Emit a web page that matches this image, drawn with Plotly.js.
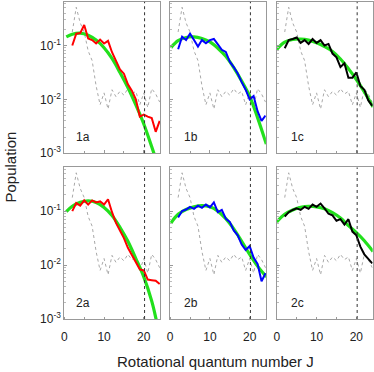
<!DOCTYPE html>
<html>
<head>
<meta charset="utf-8">
<script src="https://cdn.plot.ly/plotly-3.0.1.min.js"></script>
<style>
  html, body { margin: 0; padding: 0; background: #fff; }
  #chart { width: 374px; height: 372px; }
</style>
</head>
<body>
<div id="chart"></div>
<script>
// Rotational levels J = 2 .. 24 for the measured distributions
const levelsJ = [2, 3, 4, 5, 6, 7, 8, 9, 10, 11, 12, 13, 14, 15, 16, 17, 18, 19, 20, 21, 22, 23, 24];

// initial (gray dotted) distribution, same in every panel
const initialPop = [0.178, 0.513, 0.263, 0.178, 0.0794, 0.0525, 0.0178, 0.00794, 0.0132, 0.00661, 0.0151, 0.0112,
  0.0141, 0.0120, 0.0158, 0.0126, 0.0141, 0.00794, 0.0132, 0.00708, 0.0158, 0.0126, 0.00891];

// measured populations
const pop1a = [0.100, 0.166, 0.170, 0.240, 0.135, 0.126, 0.109, 0.129, 0.109, 0.122, 0.075, 0.052,
  0.036, 0.030, 0.019, 0.0145, 0.0100, 0.0048, 0.0052, 0.0048, 0.0045, 0.0025, 0.0040];
const pop1b = [0.0851, 0.145, 0.126, 0.166, 0.126, 0.0955, 0.126, 0.110, 0.126, 0.132, 0.105, 0.0832,
  0.0759, 0.0501, 0.0398, 0.0302, 0.0209, 0.0151, 0.0100, 0.0115, 0.00603, 0.00398, 0.00501];
const pop1c = [0.0891, 0.126, 0.132, 0.141, 0.112, 0.126, 0.107, 0.132, 0.112, 0.126, 0.100, 0.107,
  0.0708, 0.0603, 0.0398, 0.0468, 0.0251, 0.0251, 0.0316, 0.0178, 0.0151, 0.00955, 0.00759];
const pop2a = [0.100, 0.141, 0.126, 0.158, 0.132, 0.158, 0.145, 0.151, 0.132, 0.166, 0.0955, 0.0603,
  0.0437, 0.0316, 0.0209, 0.0151, 0.0110, 0.00832, 0.00794, 0.00537, 0.00525, 0.00513, 0.00447];
const pop2b = [0.0759, 0.100, 0.107, 0.120, 0.110, 0.126, 0.115, 0.132, 0.117, 0.145, 0.0955, 0.105,
  0.0724, 0.0631, 0.0437, 0.0355, 0.0240, 0.0191, 0.0224, 0.0138, 0.0105, 0.00501, 0.00708];
const pop2c = [0.0794, 0.0955, 0.105, 0.112, 0.105, 0.120, 0.110, 0.132, 0.120, 0.138, 0.112, 0.0891,
  0.0832, 0.0661, 0.0708, 0.0562, 0.0708, 0.0417, 0.0355, 0.0219, 0.0158, 0.0132, 0.0107];

// Boltzmann fits (green), read at a few J values
const fitJ1a = [0.5, 2, 4, 6, 8, 10, 12, 14, 16, 18, 20, 22, 23];
const fit1a = [0.145, 0.162, 0.170, 0.155, 0.126, 0.091, 0.0575, 0.0316, 0.0166, 0.0079, 0.0035, 0.00132, 0.00079];
const fitJ1b = [0.2, 2, 4, 6, 8, 10, 12, 14, 16, 18, 20, 22, 24.2];
const fit1b = [0.0912, 0.123, 0.141, 0.145, 0.135, 0.117, 0.0891, 0.0631, 0.0389, 0.0219, 0.0115, 0.00457, 0.00148];
const fitJ1c = [0, 2, 4, 6, 8, 10, 12, 14, 16, 18, 20, 22, 24.2];
const fit1c = [0.0851, 0.115, 0.129, 0.132, 0.126, 0.112, 0.0955, 0.0776, 0.0562, 0.0372, 0.0234, 0.0138, 0.00724];
const fitJ2a = [0.5, 2, 4, 6, 8, 10, 12, 14, 16, 18, 20, 22, 23, 23.5];
const fit2a = [0.098, 0.123, 0.145, 0.155, 0.145, 0.117, 0.0832, 0.0501, 0.0275, 0.0132, 0.00603, 0.00214, 0.00107, 0.00071];
const fitJ2b = [0.2, 2, 4, 6, 8, 10, 12, 14, 16, 18, 20, 22, 24.2];
const fit2b = [0.0603, 0.0871, 0.107, 0.120, 0.126, 0.120, 0.100, 0.0724, 0.0468, 0.0275, 0.0158, 0.00955, 0.00603];
const fitJ2c = [0, 2, 4, 6, 8, 10, 12, 14, 16, 18, 20, 22, 24.2];
const fit2c = [0.0631, 0.0871, 0.105, 0.117, 0.123, 0.120, 0.110, 0.0933, 0.0741, 0.0537, 0.0398, 0.0282, 0.0178];

const panelLabels = ['1a', '1b', '1c', '2a', '2b', '2c'];
const lineColors = ['#ff0000', '#0000ff', '#000000', '#ff0000', '#0000ff', '#000000'];
const cutoffJ = 20.2;
const yTickVals = [0.001, 0.01, 0.1];
const yTickText = ['10<sup>-3</sup>', '10<sup>-2</sup>', '10<sup>-1</sup>'];
const xTickVals = [0, 10, 20];

const observed = [pop1a, pop1b, pop1c, pop2a, pop2b, pop2c];
const fitsJ = [fitJ1a, fitJ1b, fitJ1c, fitJ2a, fitJ2b, fitJ2c];
const fits = [fit1a, fit1b, fit1c, fit2a, fit2b, fit2c];

// panel domains (paper fractions, margins are zero)
const colDomains = [[0.172, 0.428], [0.455, 0.711], [0.740, 0.9965]];
const rowDomains = [[0.588, 0.995], [0.1425, 0.550]];

const fontFamily = "'Liberation Sans', Arial, Helvetica, sans-serif";

const traces = [];
const layout = {
  width: 374,
  height: 372,
  margin: { l: 0, r: 0, t: 0, b: 0 },
  paper_bgcolor: '#fff',
  plot_bgcolor: '#fff',
  showlegend: false,
  font: { family: fontFamily, size: 12, color: '#222' },
  shapes: [],
  annotations: [],
};

panelLabels.forEach((label, i) => {
  const n = i === 0 ? '' : String(i + 1);
  const xa = 'x' + n, ya = 'y' + n;
  const row = Math.floor(i / 3), col = i % 3;

  traces.push({
    x: levelsJ, y: initialPop, xaxis: xa, yaxis: ya,
    mode: 'lines', line: { color: '#a8a8a8', width: 1, dash: 'dot' },
  });
  traces.push({
    x: fitsJ[i], y: fits[i], xaxis: xa, yaxis: ya,
    mode: 'lines', line: { color: '#22e01c', width: 3.2, shape: 'spline' },
  });
  traces.push({
    x: levelsJ, y: observed[i], xaxis: xa, yaxis: ya,
    mode: 'lines', line: { color: lineColors[i], width: 2 },
  });

  // bottom row: long transparent outside ticks push the labels down,
  // the visible short marks come from the minor ticks inside
  layout['xaxis' + n] = {
    domain: colDomains[col], anchor: ya,
    range: [0, 24.1],
    tickvals: xTickVals,
    showticklabels: row === 1,
    ticks: row === 1 ? 'outside' : 'inside',
    ticklen: row === 1 ? 7 : 3,
    tickcolor: row === 1 ? 'rgba(0,0,0,0)' : '#999',
    minor: { ticks: 'inside', ticklen: 2, dtick: 5, tick0: 0, tickcolor: '#999' },
    showline: true, linecolor: '#999', linewidth: 1, mirror: true,
    showgrid: false, zeroline: false,
    tickfont: { family: fontFamily, size: 12, color: '#222' },
  };
  layout['yaxis' + n] = {
    domain: rowDomains[row], anchor: xa,
    type: 'log', range: [-3, -0.19],
    tickvals: yTickVals, ticktext: yTickText,
    showticklabels: col === 0,
    ticks: 'inside', ticklen: 3, tickcolor: '#999',
    minor: { ticks: 'inside', ticklen: 2, dtick: 'D1', tickcolor: '#bbb' },
    showline: true, linecolor: '#999', linewidth: 1, mirror: true,
    showgrid: false, zeroline: false,
    tickfont: { family: fontFamily, size: 12, color: '#222' },
  };

  layout.shapes.push({
    type: 'line', layer: 'above',
    xref: xa, yref: ya + ' domain',
    x0: cutoffJ, x1: cutoffJ, y0: 0, y1: 1,
    line: { color: '#333', width: 1, dash: 'dot' },
  });

  layout.annotations.push({
    text: label, showarrow: false,
    xref: xa + ' domain', yref: ya + ' domain',
    x: col === 0 ? 0.195 : 0.215, y: 0.105,
    xanchor: 'center', yanchor: 'middle',
    font: { family: fontFamily, size: 12, color: '#222' },
  });
});

layout.annotations.push({
  text: 'Population', showarrow: false, textangle: -90,
  xref: 'paper', yref: 'paper', x: 0.028, y: 0.551,
  xanchor: 'center', yanchor: 'middle',
  font: { family: fontFamily, size: 15, color: '#222' },
});
layout.annotations.push({
  text: 'Rotational quantum number J', showarrow: false,
  xref: 'paper', yref: 'paper', x: 0.576, y: 0.028,
  xanchor: 'center', yanchor: 'middle',
  font: { family: fontFamily, size: 15, color: '#222' },
});

Plotly.newPlot('chart', traces, layout, { displayModeBar: false, staticPlot: true });
</script>
</body>
</html>
